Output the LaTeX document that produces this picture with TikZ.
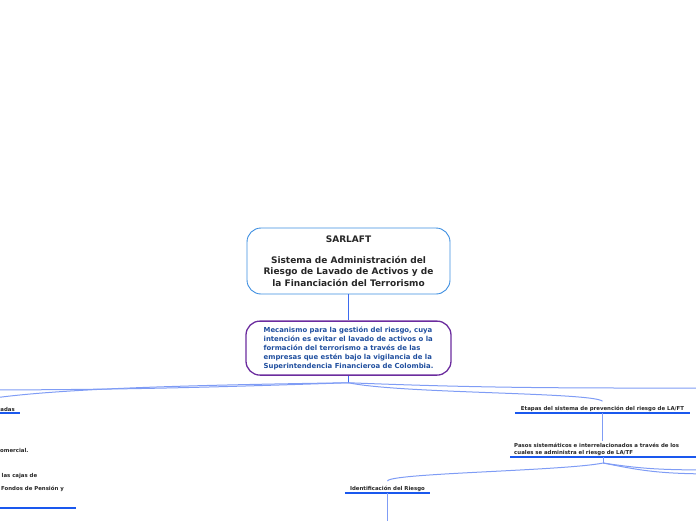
\documentclass[tikz,border=0pt]{standalone}
\usepackage{fontspec}
\setmainfont{DejaVu Sans}
\usetikzlibrary{positioning}
\definecolor{toprim}{HTML}{3C8EE0}
\definecolor{mechrim}{HTML}{6B2C9E}
\definecolor{mechtext}{HTML}{1F4E9E}
\definecolor{linkblue}{HTML}{7F9CF5}
\definecolor{stemblue}{HTML}{3D6BEF}
\definecolor{ulblue}{HTML}{1A58EE}

\begin{document}
\begin{tikzpicture}[x=1pt,y=-1pt,node distance=26pt]
\tikzstyle{rootbox}=[draw=toprim,line width=0.9pt,rounded corners=14pt,minimum width=203pt,minimum height=66pt,align=center,text=black!85,font=\fontsize{9}{11.5}\selectfont\bfseries]
\tikzstyle{mechbox}=[draw=mechrim,line width=1.3pt,rounded corners=14pt,minimum width=205pt,minimum height=54pt,align=left,text=mechtext,font=\fontsize{6.9}{9}\selectfont\bfseries]
\tikzstyle{topic}=[inner sep=1.5pt,text=black!85,font=\fontsize{5.4}{7}\selectfont\bfseries]
\tikzstyle{uline}=[draw=ulblue,line width=1.6pt]
\tikzstyle{link}=[draw=linkblue,line width=1pt]
\tikzstyle{stem}=[draw=stemblue,line width=1pt]

\useasboundingbox (0,0) rectangle (696,520);

\node [rootbox] (sarlaft) at (348.5,261) {SARLAFT\\[9pt]Sistema de Administración del\\Riesgo de Lavado de Activos y de\\la Financiación del Terrorismo};
\node [mechbox,below=of sarlaft] (mech) {Mecanismo para la gestión del riesgo, cuya\\intención es evitar el lavado de activos o la\\formación del terrorismo a través de las\\empresas que estén bajo la vigilancia de la\\Superintendencia Financieroa de Colombia.};

\node [topic,minimum width=175pt,anchor=south] (etapas) at (602.5,413) {Etapas del sistema de prevención del riesgo de LA/FT};
\node [topic,align=left,text width=178pt,inner xsep=4pt,anchor=south west] (pasos) at (510,457) {Pasos sistemáticos e interrelacionados a través de los\\cuales se administra el riesgo de LA/TF};
\node [topic,minimum width=85pt,anchor=south] (ident) at (387.5,493) {Identificación del Riesgo};

% cut at the left edge
\node [topic,inner xsep=5pt,anchor=south east] (adas) at (20,413) {adas};
\node [topic,inner sep=0pt,anchor=base west] (comercial) at (0,452) {omercial.};
\node [topic,inner sep=0pt,anchor=base west] (cajas) at (1.5,477.5) {las cajas de};
\node [topic,inner sep=0pt,anchor=base west] (fondos) at (1,490.5) {Fondos de Pensión y};

\foreach \n in {adas,etapas,pasos,ident}
    \draw[uline] (\n.south west) -- (\n.south east);
\draw[uline] (-5,508) -- (76,508);

\coordinate (hubA) at ([yshift=-7pt]mech.south);
\coordinate (hubB) at ([yshift=-6pt]pasos.south);
\coordinate (leftfar) at (-40,390);
\coordinate (adasin) at (-40,404);
\coordinate (rightfar) at (740,388);
\coordinate (pfarA) at (720,470);
\coordinate (pfarB) at (720,474);
\coordinate (identdown) at (387.5,530);

\draw[stem] (sarlaft) -- (mech);
\draw[stem] (mech) -- (hubA);

\draw[link]
    (hubA) .. controls +(-200,3) and +(60,-14) .. (adasin);
\draw[link]
    (hubA) .. controls +(-150,5) and +(150,0) .. (leftfar);
\draw[link]
    (hubA) .. controls +(150,6) and +(-150,0) .. (rightfar);
\draw[link]
    (hubA) .. controls +(52,11) and +(-12,-9) .. ([yshift=3pt]etapas.north);

\draw[link] (etapas.south) -- (etapas.south |- pasos.north);
\draw[link] (pasos.south) -- (hubB);

\draw[link]
    (hubB) .. controls +(-40,8) and +(0,-8) .. ([yshift=3pt]ident.north);
\draw[link]
    (hubB) .. controls +(40,6) and +(-60,0) .. (pfarA);
\draw[link]
    (hubB) .. controls +(40,8) and +(-60,0) .. (pfarB);

\draw[link] (ident.south) -- (identdown);

\end{tikzpicture}
\end{document}
